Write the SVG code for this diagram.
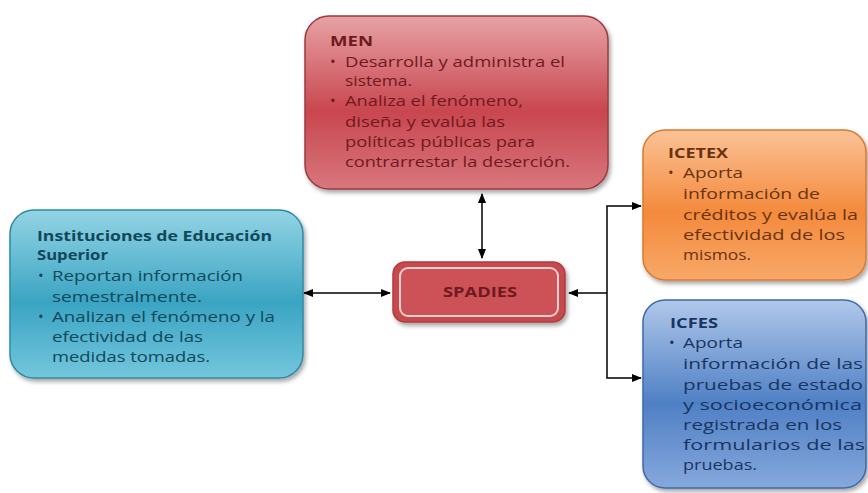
<svg xmlns="http://www.w3.org/2000/svg" width="868" height="493" viewBox="0 0 868 493">
<defs>
<linearGradient id="gRed" x1="0" y1="0" x2="0" y2="1">
<stop offset="0" stop-color="#e7a2a5"/><stop offset="0.55" stop-color="#c9464f"/><stop offset="1" stop-color="#d8777d"/>
</linearGradient>
<linearGradient id="gTeal" x1="0" y1="0" x2="0" y2="1">
<stop offset="0" stop-color="#94d4e4"/><stop offset="0.55" stop-color="#3aa4c3"/><stop offset="1" stop-color="#74c6dc"/>
</linearGradient>
<linearGradient id="gOrange" x1="0" y1="0" x2="0" y2="1">
<stop offset="0" stop-color="#fbc297"/><stop offset="0.55" stop-color="#f48a3c"/><stop offset="1" stop-color="#f8a868"/>
</linearGradient>
<linearGradient id="gBlue" x1="0" y1="0" x2="0" y2="1">
<stop offset="0" stop-color="#b0c8ea"/><stop offset="0.55" stop-color="#4f80c5"/><stop offset="1" stop-color="#86a8dc"/>
</linearGradient>
<filter id="sh" x="-10%" y="-10%" width="125%" height="125%">
<feDropShadow dx="2" dy="3" stdDeviation="2" flood-color="#000" flood-opacity="0.35"/>
</filter>
<marker id="ah" viewBox="0 0 10 10" refX="9" refY="5" markerWidth="7" markerHeight="7" orient="auto-start-reverse">
<path d="M0,1 L10,5 L0,9 z" fill="#000"/>
</marker>
</defs>
<style>
text{font-family:"Open Sans","Liberation Sans",sans-serif;font-size:15px}
.h{font-weight:bold}
.men{fill:#6e1a20}
.ies{fill:#10485a}
.ice{fill:#6a3310}
.icf{fill:#1a3562}
.c{fill:none;stroke:#000;stroke-width:1.5}
</style>
<g id="connectors">
<line class="c" x1="482" y1="194" x2="482" y2="258" marker-start="url(#ah)" marker-end="url(#ah)"/>
<line class="c" x1="304" y1="293" x2="390" y2="293" marker-start="url(#ah)" marker-end="url(#ah)"/>
<polyline class="c" points="607,293 569,293" marker-end="url(#ah)"/>
<polyline class="c" points="641,206 607,206 607,378 641,378" marker-start="url(#ah)" marker-end="url(#ah)"/>
</g>
<g id="men">
<rect x="305" y="16" width="303" height="173" rx="24" fill="url(#gRed)" stroke="#9a3a40" stroke-width="1.5" filter="url(#sh)"/>
<text x="330" y="46" class="h men" textLength="43" lengthAdjust="spacingAndGlyphs">MEN</text>
<text x="330" y="67" class="men">•</text>
<text x="345" y="67" class="men" textLength="220" lengthAdjust="spacingAndGlyphs">Desarrolla y administra el</text>
<text x="345" y="86" class="men" textLength="67" lengthAdjust="spacingAndGlyphs">sistema.</text>
<text x="330" y="106" class="men">•</text>
<text x="345" y="106" class="men" textLength="178" lengthAdjust="spacingAndGlyphs">Analiza el fenómeno,</text>
<text x="345" y="127" class="men" textLength="160" lengthAdjust="spacingAndGlyphs">diseña y evalúa las</text>
<text x="345" y="147" class="men" textLength="190" lengthAdjust="spacingAndGlyphs">políticas públicas para</text>
<text x="345" y="167" class="men" textLength="225" lengthAdjust="spacingAndGlyphs">contrarrestar la deserción.</text>
</g>
<g id="ies">
<rect x="10" y="210" width="293" height="168" rx="24" fill="url(#gTeal)" stroke="#2f8aa3" stroke-width="1.5" filter="url(#sh)"/>
<text x="37" y="241" class="h ies" textLength="235" lengthAdjust="spacingAndGlyphs">Instituciones de Educación</text>
<text x="37" y="260" class="h ies" textLength="71" lengthAdjust="spacingAndGlyphs">Superior</text>
<text x="38" y="281" class="ies">•</text>
<text x="52" y="281" class="ies" textLength="191" lengthAdjust="spacingAndGlyphs">Reportan información</text>
<text x="52" y="302" class="ies" textLength="150" lengthAdjust="spacingAndGlyphs">semestralmente.</text>
<text x="38" y="322" class="ies">•</text>
<text x="52" y="322" class="ies" textLength="223" lengthAdjust="spacingAndGlyphs">Analizan el fenómeno y la</text>
<text x="52" y="342" class="ies" textLength="151" lengthAdjust="spacingAndGlyphs">efectividad de las</text>
<text x="52" y="362" class="ies" textLength="158" lengthAdjust="spacingAndGlyphs">medidas tomadas.</text>
</g>
<g id="spadies">
<rect x="393" y="262" width="172" height="60" rx="12" fill="#c5484e" stroke="#b23a40" stroke-width="1.5" filter="url(#sh)"/>
<rect x="400" y="268" width="158" height="48" rx="8" fill="#cc5257" stroke="#f6d0d0" stroke-width="2"/>
<text x="443" y="297" class="h men" textLength="74" lengthAdjust="spacingAndGlyphs">SPADIES</text>
</g>
<g id="icetex">
<rect x="643" y="130" width="223" height="150" rx="22" fill="url(#gOrange)" stroke="#d97a30" stroke-width="1.5" filter="url(#sh)"/>
<text x="668" y="158" class="h ice" textLength="60" lengthAdjust="spacingAndGlyphs">ICETEX</text>
<text x="668" y="178" class="ice">•</text>
<text x="683" y="178" class="ice" textLength="60" lengthAdjust="spacingAndGlyphs">Aporta</text>
<text x="683" y="199" class="ice" textLength="137" lengthAdjust="spacingAndGlyphs">información de</text>
<text x="683" y="220" class="ice" textLength="175" lengthAdjust="spacingAndGlyphs">créditos y evalúa la</text>
<text x="683" y="240" class="ice" textLength="162" lengthAdjust="spacingAndGlyphs">efectividad de los</text>
<text x="683" y="260" class="ice" textLength="68" lengthAdjust="spacingAndGlyphs">mismos.</text>
</g>
<g id="icfes">
<rect x="643" y="300" width="223" height="188" rx="22" fill="url(#gBlue)" stroke="#3d6aa8" stroke-width="1.5" filter="url(#sh)"/>
<text x="670" y="328" class="h icf" textLength="48" lengthAdjust="spacingAndGlyphs">ICFES</text>
<text x="669" y="348" class="icf">•</text>
<text x="683" y="348" class="icf" textLength="60" lengthAdjust="spacingAndGlyphs">Aporta</text>
<text x="683" y="369" class="icf" textLength="180" lengthAdjust="spacingAndGlyphs">información de las</text>
<text x="683" y="390" class="icf" textLength="180" lengthAdjust="spacingAndGlyphs">pruebas de estado</text>
<text x="683" y="410" class="icf" textLength="179" lengthAdjust="spacingAndGlyphs">y socioeconómica</text>
<text x="683" y="430" class="icf" textLength="159" lengthAdjust="spacingAndGlyphs">registrada en los</text>
<text x="683" y="450" class="icf" textLength="182" lengthAdjust="spacingAndGlyphs">formularios de las</text>
<text x="683" y="470" class="icf" textLength="74" lengthAdjust="spacingAndGlyphs">pruebas.</text>
</g>
</svg>
